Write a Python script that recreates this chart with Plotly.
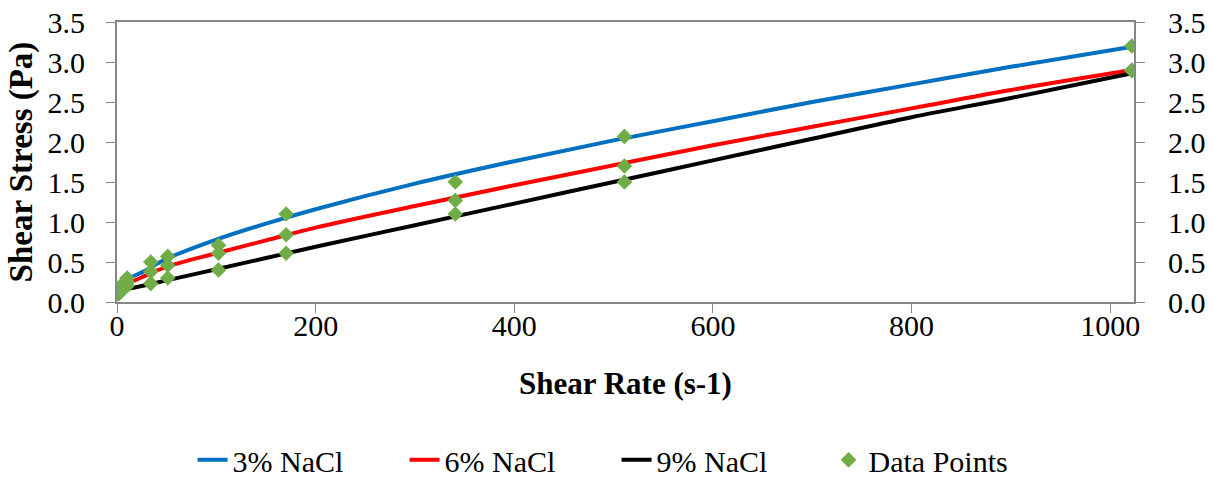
import plotly.graph_objects as go

# Fitted model curves (shear stress in Pa vs shear rate in 1/s)
curve_rate = [0, 10, 25, 50, 100, 150, 200, 300, 400, 500, 600, 700, 800, 900, 1022]
curve_3pct = [0.15, 0.28, 0.37, 0.54, 0.78, 0.98, 1.16, 1.48, 1.76, 2.02, 2.26, 2.50, 2.72, 2.94, 3.19]
curve_6pct = [0.14, 0.22, 0.31, 0.44, 0.61, 0.77, 0.93, 1.20, 1.46, 1.71, 1.96, 2.19, 2.42, 2.65, 2.90]
curve_9pct = [0.11, 0.16, 0.20, 0.27, 0.41, 0.55, 0.69, 0.96, 1.23, 1.50, 1.77, 2.04, 2.31, 2.55, 2.86]

# Measured rheometer readings
meas_rate = [1.7, 5.1, 10.2, 34.0, 51.1, 102.2, 170.3, 340.6, 510.9, 1021.8]
meas_3pct = [0.15, 0.22, 0.30, 0.50, 0.57, 0.71, 1.10, 1.50, 2.07, 3.20]
meas_6pct = [0.12, 0.18, 0.25, 0.38, 0.46, 0.61, 0.84, 1.27, 1.70, 2.90]
meas_9pct = [0.10, 0.15, 0.20, 0.23, 0.30, 0.40, 0.61, 1.10, 1.50, 2.89]

y_ticks = [0.0, 0.5, 1.0, 1.5, 2.0, 2.5, 3.0, 3.5]
x_ticks = [0, 200, 400, 600, 800, 1000]

FONT = "Liberation Serif, Times New Roman, serif"
AXIS_GREY = "#868686"

fig = go.Figure()
for name, vals, color in [("3% NaCl", curve_3pct, "#0070C0"),
                          ("6% NaCl", curve_6pct, "#FF0000"),
                          ("9% NaCl", curve_9pct, "#000000")]:
    fig.add_trace(go.Scatter(x=curve_rate, y=vals, mode="lines", name=name,
                             line=dict(color=color, width=4, shape="spline")))

fig.add_trace(go.Scatter(
    x=meas_rate * 3, y=meas_3pct + meas_6pct + meas_9pct, mode="markers",
    name="Data Points",
    marker=dict(symbol="diamond", size=12, color="#70AD47", line=dict(width=0))))

# right-hand duplicate of the stress axis
fig.add_trace(go.Scatter(x=[None], y=[None], yaxis="y2", showlegend=False, hoverinfo="skip"))

axis_common = dict(showgrid=False, zeroline=False, showline=True, linecolor=AXIS_GREY,
                   linewidth=2, ticks="outside", tickcolor=AXIS_GREY, ticklen=9, tickwidth=1,
                   automargin=False, tickfont=dict(family=FONT, size=30, color="black"))

fig.update_layout(
    width=1211, height=477,
    margin=dict(l=117, r=77, t=22, b=175),
    paper_bgcolor="white", plot_bgcolor="white",
    font=dict(family=FONT, color="black"),
    xaxis=dict(range=[0, 1024], tickvals=x_ticks, mirror=True, ticklabelstandoff=-13, **axis_common),
    yaxis=dict(range=[0, 3.5], tickvals=y_ticks, tickformat=".1f", ticklabelstandoff=15, **axis_common),
    yaxis2=dict(range=[0, 3.5], tickvals=y_ticks, tickformat=".1f", overlaying="y", side="right",
                ticklabelstandoff=17, **axis_common),
    showlegend=True,
    legend=dict(orientation="h", xref="container", yref="container", x=0.159, y=0.036,
                xanchor="left", yanchor="middle", entrywidth=167, entrywidthmode="pixels",
                font=dict(family=FONT, size=30, color="black"), bgcolor="rgba(0,0,0,0)"),
    annotations=[
        dict(text="<b>Shear Rate (s-1)</b>", xref="paper", yref="paper", x=0.5, y=-0.29,
             xanchor="center", yanchor="middle", showarrow=False,
             font=dict(family=FONT, size=31, color="black")),
        dict(text="<b>Shear Stress (Pa)</b>", xref="paper", yref="paper", x=-0.094, y=0.5,
             xanchor="center", yanchor="middle", textangle=-90, showarrow=False,
             font=dict(family=FONT, size=33, color="black")),
    ],
)

fig.write_html("out.html")
